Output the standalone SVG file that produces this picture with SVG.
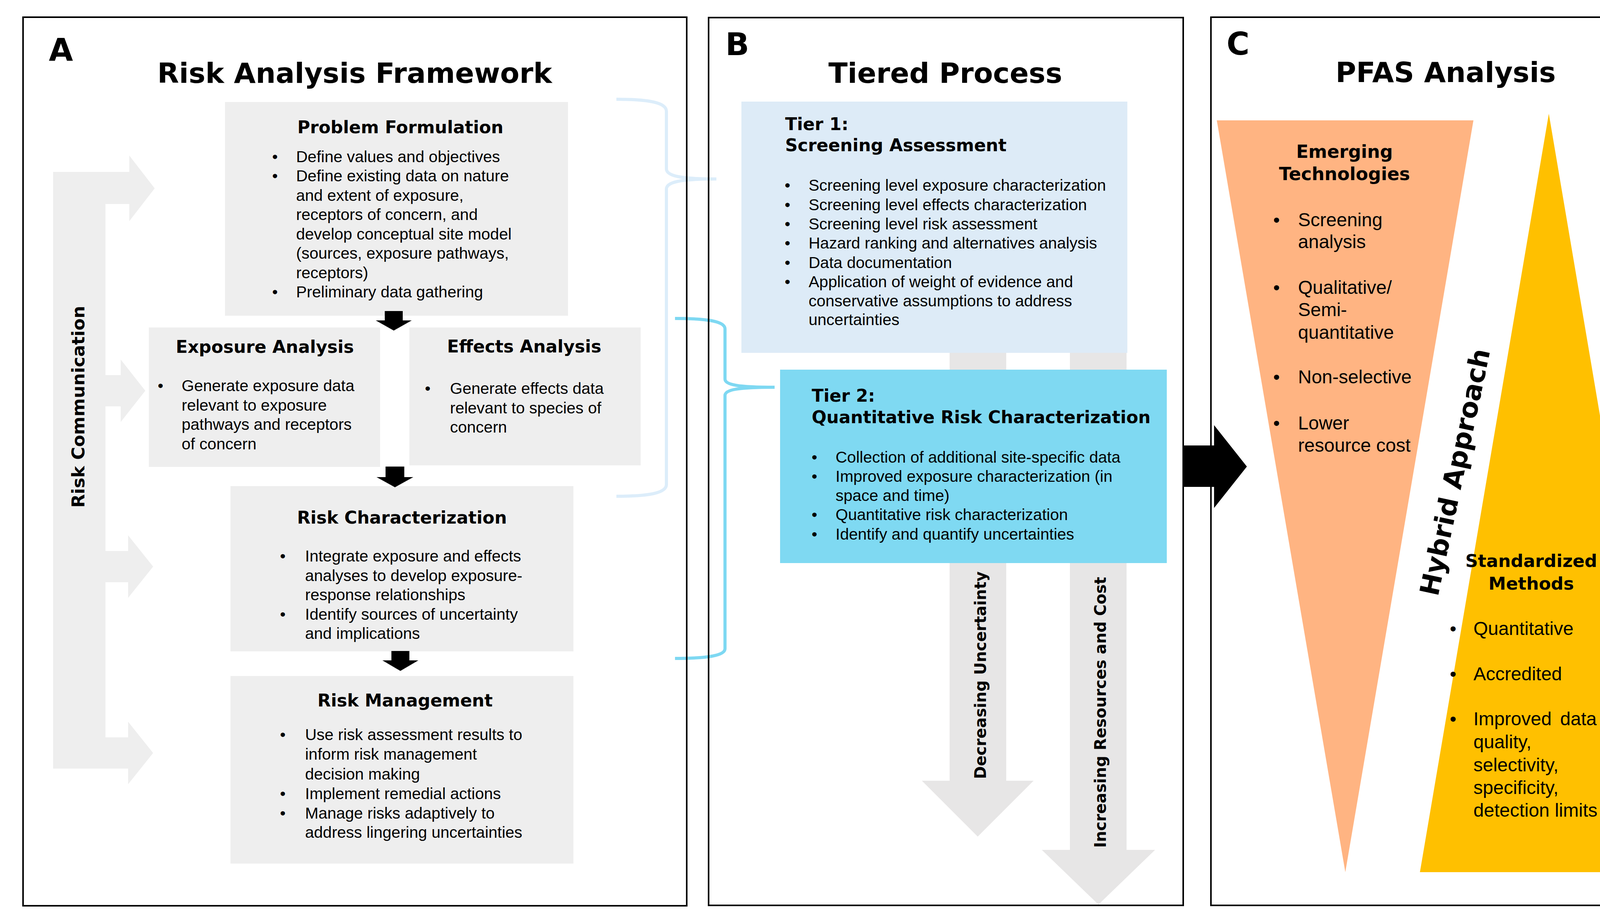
<svg xmlns="http://www.w3.org/2000/svg" width="4355" height="2357" viewBox="0 0 4355 2357">
<style>
.panel{fill:none;stroke:#000;stroke-width:4}
.box{fill:#EEEEEE}
.h{font-family:"DejaVu Sans",sans-serif;font-weight:bold;fill:#000}
.lbl{font-size:80px}
.ttl{font-size:72px}
.bt{font-size:44.5px}
.b{font-family:"Liberation Sans",Arial,sans-serif;font-size:41px;fill:#000}
.c{font-family:"Liberation Sans",Arial,sans-serif;font-size:48px;fill:#000}
.mid{text-anchor:middle}
.blk{fill:#000}
.garrow{fill:#E7E6E6}
</style>
<rect width="4355" height="2357" fill="#fff"/>

<!-- connectors: braces -->
<g id="connectors">
<path d="M1578,254 C1660,254 1706,262 1706,285 L1706,432 C1706,450 1740,458 1834,458 C1740,458 1706,466 1706,484 L1706,1240 C1706,1262 1660,1270 1578,1270" fill="none" stroke="#DCEDFA" stroke-width="8"/>
<path d="M1728,815 C1810,815 1856,822 1856,842 L1856,970 C1856,985 1890,991 1983,991 C1890,991 1856,997 1856,1012 L1856,1660 C1856,1678 1810,1685 1728,1685" fill="none" stroke="#7ED8F2" stroke-width="8"/>
</g>

<!-- panel frames -->
<g id="panels">
<rect class="panel" x="59" y="44" width="1699" height="2274"/>
<rect class="panel" x="1814" y="45" width="1215" height="2272"/>
<rect class="panel" x="3100" y="44" width="1215" height="2273"/>
</g>

<!-- Panel A -->
<g id="panel-a-header">
<text class="h lbl" x="125" y="156">A</text>
<text class="h ttl mid" x="908" y="212">Risk Analysis Framework</text>
</g>

<g id="risk-communication">
<path class="box" d="M136,440 L331,440 L331,398 L396,482 L331,566 L331,522 L270,522 L270,960 L309,960 L309,920 L372,1000 L309,1080 L309,1040 L270,1040 L270,1410 L328,1410 L328,1370 L392,1450 L328,1530 L328,1490 L270,1490 L270,1887 L328,1887 L328,1847 L392,1927 L328,2007 L328,1967 L136,1967 Z"/>
<text class="h mid" font-size="45" x="216" y="1041" transform="rotate(-90 216 1041)">Risk Communication</text>
</g>

<g id="problem-formulation">
<rect class="box" x="576" y="261" width="878" height="547"/>
<text class="h bt mid" x="1025" y="341">Problem Formulation</text>
<g class="b">
<text class="mid" x="704" y="415">•</text><text x="758" y="415">Define values and objectives</text>
<text class="mid" x="704" y="464">•</text><text x="758" y="464">Define existing data on nature</text>
<text x="758" y="514">and extent of exposure,</text>
<text x="758" y="563">receptors of concern, and</text>
<text x="758" y="613">develop conceptual site model</text>
<text x="758" y="662">(sources, exposure pathways,</text>
<text x="758" y="712">receptors)</text>
<text class="mid" x="704" y="761">•</text><text x="758" y="761">Preliminary data gathering</text>
</g>
</g>

<g id="exposure-analysis">
<rect class="box" x="381" y="838" width="592" height="357"/>
<text class="h bt mid" x="678" y="903">Exposure Analysis</text>
<g class="b">
<text class="mid" x="411" y="1001">•</text><text x="465" y="1001">Generate exposure data</text>
<text x="465" y="1051">relevant to exposure</text>
<text x="465" y="1100">pathways and receptors</text>
<text x="465" y="1150">of concern</text>
</g>
</g>

<g id="effects-analysis">
<rect class="box" x="1048" y="838" width="592" height="353"/>
<text class="h bt mid" x="1342" y="902">Effects Analysis</text>
<g class="b">
<text class="mid" x="1095" y="1008">•</text><text x="1152" y="1008">Generate effects data</text>
<text x="1152" y="1058">relevant to species of</text>
<text x="1152" y="1107">concern</text>
</g>
</g>

<g id="risk-characterization">
<rect class="box" x="590" y="1244" width="878" height="423"/>
<text class="h bt mid" x="1029" y="1340">Risk Characterization</text>
<g class="b">
<text class="mid" x="724" y="1437">•</text><text x="781" y="1437">Integrate exposure and effects</text>
<text x="781" y="1487">analyses to develop exposure-</text>
<text x="781" y="1536">response relationships</text>
<text class="mid" x="724" y="1586">•</text><text x="781" y="1586">Identify sources of uncertainty</text>
<text x="781" y="1635">and implications</text>
</g>
</g>

<g id="risk-management">
<rect class="box" x="590" y="1730" width="878" height="480"/>
<text class="h bt mid" x="1037" y="1808">Risk Management</text>
<g class="b">
<text class="mid" x="724" y="1894">•</text><text x="781" y="1894">Use risk assessment results to</text>
<text x="781" y="1944">inform risk management</text>
<text x="781" y="1995">decision making</text>
<text class="mid" x="724" y="2045">•</text><text x="781" y="2045">Implement remedial actions</text>
<text class="mid" x="724" y="2095">•</text><text x="781" y="2095">Manage risks adaptively to</text>
<text x="781" y="2144">address lingering uncertainties</text>
</g>
</g>

<g id="flow-arrows">
<path class="blk" d="M985,796 H1031 V820 H1054 L1008,846 L962,820 H985 Z"/>
<path class="blk" d="M987,1194 H1035 V1221 H1058 L1011,1247 L964,1221 H987 Z"/>
<path class="blk" d="M1002,1666 H1048 V1690 H1071 L1025,1717 L979,1690 H1002 Z"/>
</g>

<!-- Panel B -->
<g id="panel-b-header">
<text class="h lbl" x="1857" y="141">B</text>
<text class="h ttl mid" x="2420" y="212">Tiered Process</text>
</g>

<g id="decreasing-uncertainty">
<path class="garrow" d="M2431,903 H2576 V1998 H2646 L2503,2141 L2360,1998 H2431 Z"/>
<text class="h mid" font-size="40" x="2524" y="1728" transform="rotate(-90 2524 1728)">Decreasing Uncertainty</text>
</g>

<g id="increasing-resources">
<path class="garrow" d="M2739,903 H2884 V2175 H2957 L2812,2315 L2667,2175 H2739 Z"/>
<text class="h mid" font-size="40" x="2831" y="1823" transform="rotate(-90 2831 1823)">Increasing Resources and Cost</text>
</g>

<g id="tier-1">
<rect x="1898" y="260" width="988" height="643" fill="#DDEBF7"/>
<text class="h bt" x="2010" y="333">Tier 1:</text>
<text class="h bt" x="2010" y="387">Screening Assessment</text>
<g class="b">
<text class="mid" x="2016" y="488">•</text><text x="2070" y="488">Screening level exposure characterization</text>
<text class="mid" x="2016" y="538">•</text><text x="2070" y="538">Screening level effects characterization</text>
<text class="mid" x="2016" y="587">•</text><text x="2070" y="587">Screening level risk assessment</text>
<text class="mid" x="2016" y="636">•</text><text x="2070" y="636">Hazard ranking and alternatives analysis</text>
<text class="mid" x="2016" y="686">•</text><text x="2070" y="686">Data documentation</text>
<text class="mid" x="2016" y="735">•</text><text x="2070" y="735">Application of weight of evidence and</text>
<text x="2070" y="784">conservative assumptions to address</text>
<text x="2070" y="832">uncertainties</text>
</g>
</g>

<g id="tier-2">
<rect x="1997" y="946" width="990" height="495" fill="#7FD9F2"/>
<text class="h bt" x="2078" y="1028">Tier 2:</text>
<text class="h bt" x="2078" y="1083">Quantitative Risk Characterization</text>
<g class="b">
<text class="mid" x="2085" y="1184">•</text><text x="2139" y="1184">Collection of additional site-specific data</text>
<text class="mid" x="2085" y="1233">•</text><text x="2139" y="1233">Improved exposure characterization (in</text>
<text x="2139" y="1282">space and time)</text>
<text class="mid" x="2085" y="1331">•</text><text x="2139" y="1331">Quantitative risk characterization</text>
<text class="mid" x="2085" y="1381">•</text><text x="2139" y="1381">Identify and quantify uncertainties</text>
</g>
</g>

<g id="b-to-c-arrow">
<path class="blk" d="M3030,1140 H3108 V1088 L3192,1194 L3108,1300 V1246 H3030 Z"/>
</g>

<!-- Panel C -->
<g id="panel-c-header">
<text class="h lbl" x="3140" y="140">C</text>
<text class="h ttl mid" x="3701" y="210">PFAS Analysis</text>
</g>

<g id="emerging-technologies">
<polygon points="3115,308 3772,308 3444,2232" fill="#FFB482"/>
<text class="h mid" font-size="46" x="3442" y="404">Emerging</text>
<text class="h mid" font-size="46" x="3442" y="461">Technologies</text>
<g class="c">
<text class="mid" x="3268" y="579">•</text><text x="3323" y="579">Screening</text>
<text x="3323" y="635">analysis</text>
<text class="mid" x="3268" y="752">•</text><text x="3323" y="752">Qualitative/</text>
<text x="3323" y="809">Semi-</text>
<text x="3323" y="867">quantitative</text>
<text class="mid" x="3268" y="981">•</text><text x="3323" y="981">Non-selective</text>
<text class="mid" x="3268" y="1099">•</text><text x="3323" y="1099">Lower</text>
<text x="3323" y="1156">resource cost</text>
</g>
</g>

<g id="standardized-methods">
<polygon points="3965,291 4294,2232 3635,2232" fill="#FFC000"/>
<text class="h mid" font-size="45" x="3920" y="1451">Standardized</text>
<text class="h mid" font-size="45" x="3920" y="1509">Methods</text>
<g class="c">
<text class="mid" x="3720" y="1625">•</text><text x="3772" y="1625">Quantitative</text>
<text class="mid" x="3720" y="1741">•</text><text x="3772" y="1741">Accredited</text>
<text class="mid" x="3720" y="1856">•</text><text x="3772" y="1856">Improved</text><text x="3994" y="1856">data</text>
<text x="3772" y="1915">quality,</text>
<text x="3772" y="1974">selectivity,</text>
<text x="3772" y="2032">specificity,</text>
<text x="3772" y="2090">detection limits</text>
</g>
</g>

<g id="hybrid-approach">
<text class="h mid" font-size="68" x="3748" y="1213" transform="rotate(-78 3748 1213)">Hybrid Approach</text>
</g>
</svg>
